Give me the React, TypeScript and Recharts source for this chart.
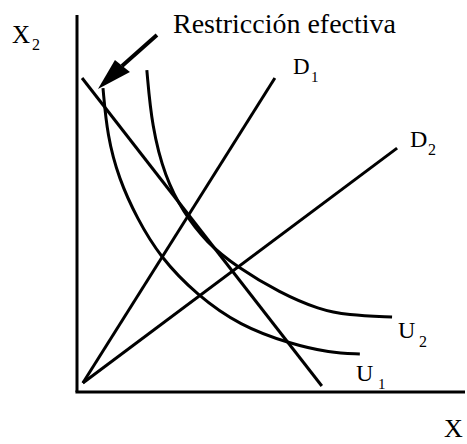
import { LineChart, Line, XAxis, YAxis, ReferenceDot, ReferenceLine } from 'recharts';

type Pt = { x: number; y: number };

// rayos desde el origen
const d1Ray: Pt[] = [
  { x: 1.5, y: 2.4 },
  { x: 51.0, y: 83.3 },
];
const d2Ray: Pt[] = [
  { x: 1.5, y: 2.4 },
  { x: 82.5, y: 64.7 },
];

// restricción efectiva
const budget: Pt[] = [
  { x: 1.3, y: 83.3 },
  { x: 63.1, y: 1.6 },
];

// curvas de indiferencia
const u1: Pt[] = [
  { x: 6.7, y: 80.6 },
  { x: 7.8, y: 68.0 },
  { x: 10.8, y: 56.5 },
  { x: 15.5, y: 46.0 },
  { x: 21.4, y: 35.8 },
  { x: 30.9, y: 25.7 },
  { x: 42.0, y: 17.6 },
  { x: 54.9, y: 12.8 },
  { x: 65.2, y: 10.4 },
  { x: 72.9, y: 10.1 },
];
const u2: Pt[] = [
  { x: 18.0, y: 85.4 },
  { x: 19.3, y: 70.3 },
  { x: 22.7, y: 57.0 },
  { x: 27.3, y: 47.8 },
  { x: 33.5, y: 39.5 },
  { x: 41.2, y: 33.2 },
  { x: 52.3, y: 26.3 },
  { x: 62.6, y: 21.8 },
  { x: 69.6, y: 20.4 },
  { x: 81.2, y: 19.9 },
];

// flecha
const arrowShaft: Pt[] = [
  { x: 20.6, y: 94.7 },
  { x: 11.6, y: 86.5 },
];
const arrowTip: Pt = { x: 5.4, y: 80.4 };

const serif = '"Liberation Serif", "Times New Roman", serif';

const ArrowHead = (props: any) => {
  const { cx, cy } = props;
  return (
    <polygon
      points={`${cx},${cy} ${cx + 17},${cy - 29} ${cx + 32},${cy - 17}`}
      fill="#000"
    />
  );
};

export default function App() {
  return (
    <div style={{ position: 'absolute', left: 0, top: 0, width: 467, height: 444, background: '#fff' }}>
      <LineChart width={467} height={444} margin={{ top: 15, right: 2, bottom: 52, left: 77 }}>
        <XAxis type="number" dataKey="x" domain={[0, 100]} allowDataOverflow hide />
        <YAxis type="number" dataKey="y" domain={[0, 100]} allowDataOverflow hide />
        <ReferenceLine segment={[{ x: 0, y: 0 }, { x: 0, y: 100 }]} stroke="#000" strokeWidth={3} ifOverflow="visible" />
        <ReferenceLine segment={[{ x: -0.4, y: 0 }, { x: 100, y: 0 }]} stroke="#000" strokeWidth={3} ifOverflow="visible" />
        <Line data={d1Ray} dataKey="y" type="linear" stroke="#000" strokeWidth={3} dot={false} isAnimationActive={false} />
        <Line data={d2Ray} dataKey="y" type="linear" stroke="#000" strokeWidth={3} dot={false} isAnimationActive={false} />
        <Line data={budget} dataKey="y" type="linear" stroke="#000" strokeWidth={3} dot={false} isAnimationActive={false} />
        <Line data={u1} dataKey="y" type="basis" stroke="#000" strokeWidth={3} dot={false} isAnimationActive={false} />
        <Line data={u2} dataKey="y" type="basis" stroke="#000" strokeWidth={3} dot={false} isAnimationActive={false} />
        <Line data={arrowShaft} dataKey="y" type="linear" stroke="#000" strokeWidth={4} dot={false} isAnimationActive={false} />
        <ReferenceDot x={arrowTip.x} y={arrowTip.y} r={0} shape={ArrowHead} ifOverflow="visible" />
      </LineChart>
      <svg
        width={467}
        height={444}
        style={{ position: 'absolute', left: 0, top: 0, pointerEvents: 'none' }}
        fontFamily={serif}
        fill="#000"
      >
        <text x={173} y={33} fontSize={27} textLength={223} lengthAdjust="spacingAndGlyphs">
          Restricción efectiva
        </text>
        <text x={12} y={43} fontSize={25}>X</text>
        <text x={32} y={50} fontSize={16}>2</text>
        <text x={293} y={74} fontSize={23}>D</text>
        <text x={311} y={82} fontSize={15}>1</text>
        <text x={410} y={147} fontSize={24}>D</text>
        <text x={428} y={155} fontSize={16}>2</text>
        <text x={398} y={338} fontSize={24}>U</text>
        <text x={419} y={347} fontSize={16}>2</text>
        <text x={356} y={381} fontSize={24}>U</text>
        <text x={378} y={389} fontSize={15}>1</text>
        <text x={444} y={437} fontSize={26}>X</text>
      </svg>
    </div>
  );
}
